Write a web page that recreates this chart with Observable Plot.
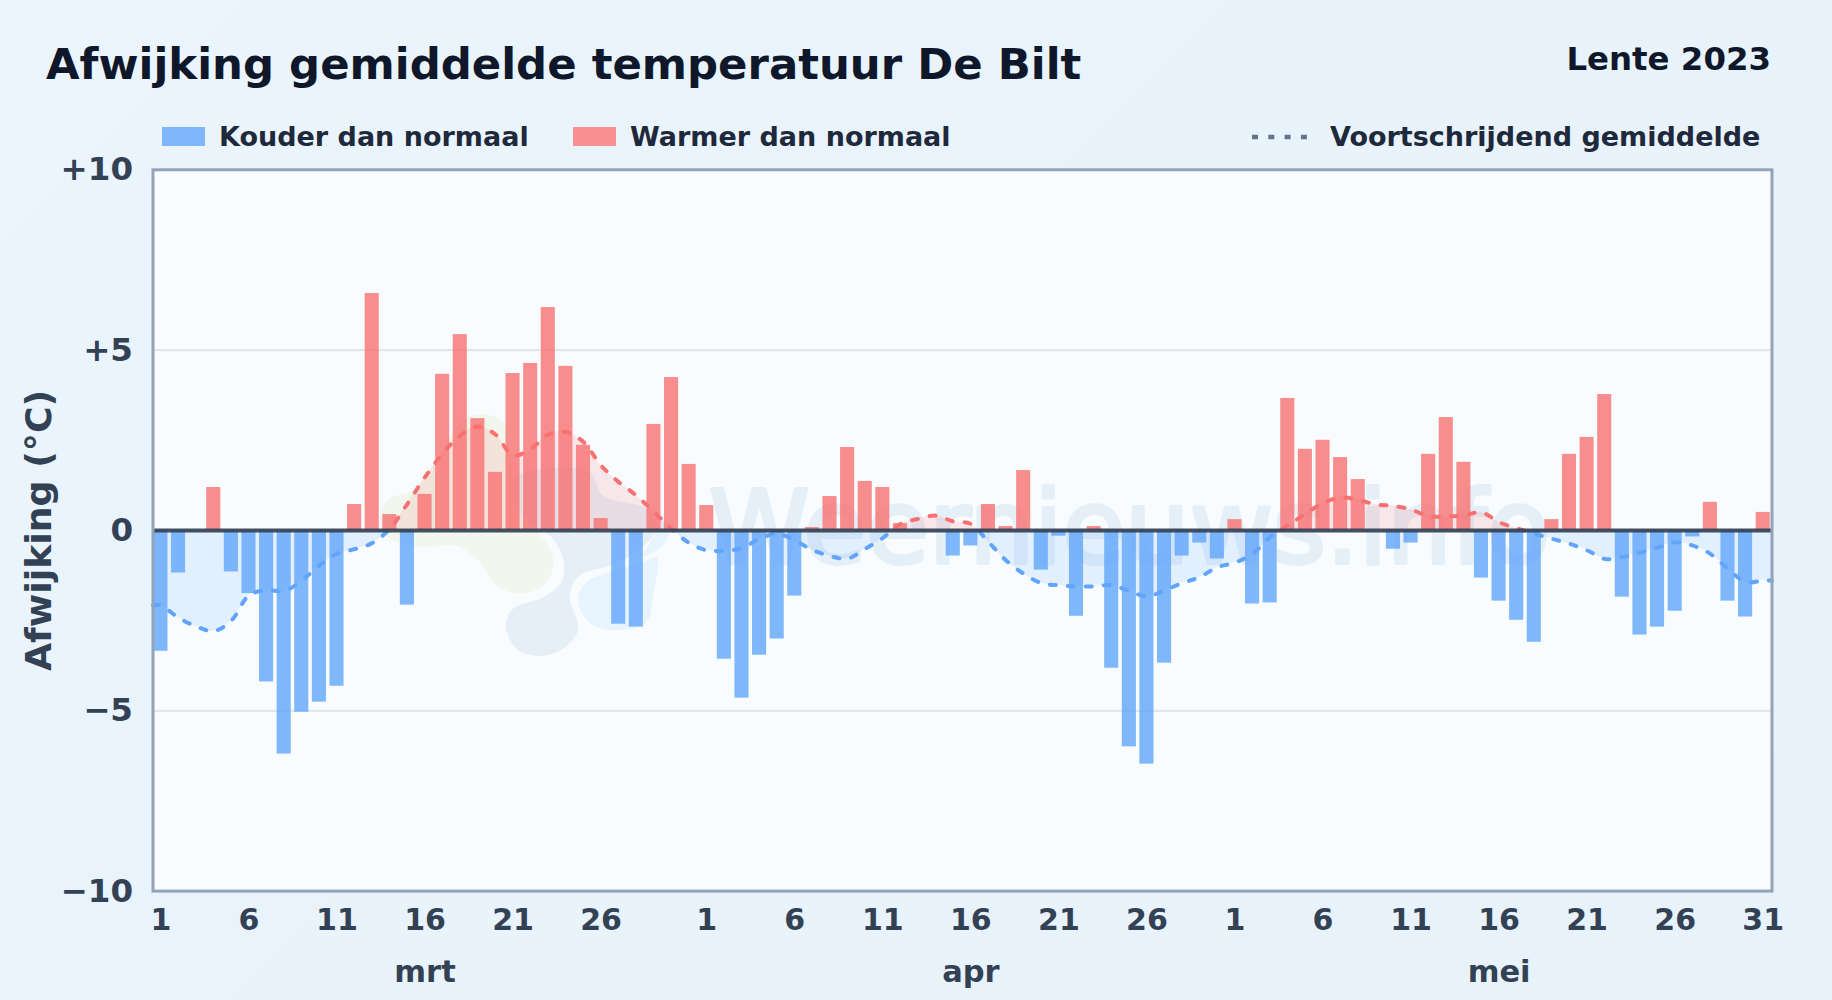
<!DOCTYPE html>
<html lang="nl">
<head>
<meta charset="utf-8">
<script src="https://cdn.jsdelivr.net/npm/d3@7"></script>
<script src="https://cdn.jsdelivr.net/npm/@observablehq/plot@0.6"></script>
<style>
  html, body { margin: 0; padding: 0; }
  body { width: 1832px; height: 1000px; overflow: hidden; position: relative;
         background: linear-gradient(135deg, #ecf5fd 0%, #e8f3fc 40%, #e8f2fb 100%);
         font-family: "DejaVu Sans", sans-serif; font-weight: bold; }
  .t { position: absolute; white-space: nowrap; }
  #title { left: 46px; top: 38px; font-size: 43.4px; color: #0f172a; line-height: 52px; }
  #season { right: 61px; top: 39px; font-size: 32.4px; color: #0f172a; line-height: 40px; }
  .lg { top: 120px; font-size: 27px; line-height: 34px; color: #1e293b; }
  .sw { position: absolute; top: 127px; width: 43px; height: 19px; }
  #chart { position: absolute; left: 0; top: 150px; }
</style>
</head>
<body>
<div id="title" class="t">Afwijking gemiddelde temperatuur De Bilt</div>
<div id="season" class="t">Lente 2023</div>
<div class="sw" style="left:162px;background:#80b6fb"></div>
<div class="t lg" style="left:219px">Kouder dan normaal</div>
<div class="sw" style="left:573px;background:#f88f90"></div>
<div class="t lg" style="left:630px">Warmer dan normaal</div>
<svg class="t" style="left:1250px;top:130px" width="60" height="14"><line x1="2" x2="58" y1="7" y2="7" stroke="#64748b" stroke-width="4.5" stroke-dasharray="6 10.3"/></svg>
<div class="t lg" style="left:1330px">Voortschrijdend gemiddelde</div>
<div id="chart"></div>
<script>
// Daily deviation (°C), 1 March to 31 May 2023
const marValues = [-3.35,-1.18,0,1.19,-1.15,-1.75,-4.2,-6.2,-5.04,-4.76,-4.32,0.72,6.57,0.44,-2.07,1.0,4.33,5.43,3.1,1.61,4.35,4.63,6.18,4.55,2.36,0.33,-2.6,-2.68,2.94,4.24,1.83];
const aprValues = [0.69,-3.57,-4.65,-3.46,-3.01,-1.82,0.08,0.94,2.3,1.36,1.19,0.19,0,0,-0.71,-0.43,0.72,0.11,1.66,-1.1,-0.16,-2.38,0.11,-3.82,-6.0,-6.48,-3.68,-0.71,-0.35,-0.79];
const meiValues = [0.3,-2.04,-2.01,3.66,2.25,2.5,2.02,1.41,0,-0.52,-0.35,2.11,3.13,1.89,-1.32,-1.96,-2.49,-3.1,0.3,2.11,2.58,3.77,-1.85,-2.9,-2.68,-2.24,-0.18,0.78,-1.96,-2.4,0.5];
// Moving average
const marAvg = [-2.08,-2.42,-2.66,-2.79,-2.5,-1.8,-1.66,-1.68,-1.39,-0.97,-0.65,-0.52,-0.35,0.05,0.74,1.48,2.13,2.63,2.88,2.66,2.08,2.26,2.66,2.73,2.45,1.8,1.34,0.97,0.51,0.05,-0.35];
const aprAvg = [-0.55,-0.56,-0.49,-0.23,-0.09,-0.28,-0.54,-0.71,-0.78,-0.51,-0.21,0.18,0.32,0.41,0.25,0.18,-0.32,-0.83,-1.2,-1.46,-1.52,-1.55,-1.55,-1.52,-1.68,-1.83,-1.66,-1.46,-1.29,-1.02];
const meiAvg = [-0.89,-0.65,-0.18,0.14,0.46,0.76,0.91,0.85,0.72,0.68,0.58,0.4,0.39,0.42,0.5,0.23,0.06,-0.09,-0.23,-0.37,-0.55,-0.79,-0.74,-0.62,-0.48,-0.33,-0.42,-0.65,-1.06,-1.43,-1.39];
// Axis labels
const dayLabels = ["1","6","11","16","21","26","1","6","11","16","21","26","1","6","11","16","21","26","31"];
const dayTicks = [1,6,11,16,21,26,32,37,42,47,52,57,62,67,72,77,82,87,92];
const monthLabels = ["mrt","apr","mei"];
const monthTicks = [16,47,77];
const yTicks = [-10,-5,0,5,10];
const xDomain = [0.55, 92.5];
// Watermark logo outlines (day, °C)
const logoGreenX = [13.43,13.99,15.32,16.65,17.97,19.3,20.43,20.81,21.38,21.76,22.9,23.3,22.7,21.38,20.05,19.11,17.78,15.7,14];
const logoGreenY = [0.32,0.88,1.11,1.89,3.0,3.23,3.0,2.17,0.97,0.23,-0.32,-0.97,-1.52,-1.76,-1.52,-0.88,-0.42,-0.46,-0.23];
const logoGreyX = [21,22.71,25.36,26.12,28.58,29.15,28,26.5,24.79,24.22,24.7,23.84,22.52,21.19,20.59,21,22.71,23.75,23.84,23.09,21.76,21.19];
const logoGreyY = [1.43,1.71,1.62,0.97,0.6,0.05,-0.6,-0.97,-1.25,-1.8,-2.73,-3.28,-3.48,-3.28,-2.63,-2.17,-1.85,-1.43,-0.79,-0.14,0.23,0.88];
const logoSkyX = [24.7,25.17,26.5,28.39,29.15,28.96,28.58,26.87,25.55,24.88];
const logoSkyY = [-1.8,-1.43,-1.16,-0.88,-0.75,-1.8,-2.54,-2.77,-2.63,-2.26];
const logoSky2X = [28.6,29.5,29.9,29.5,28.4,29.1];
const logoSky2Y = [0.6,0.42,0.05,-0.42,-0.7,0.05];

const values = [...marValues, ...aprValues, ...meiValues];
const avg = [...marAvg, ...aprAvg, ...meiAvg];
const rows = values.map((v, i) => ({day: i + 1, v})).filter(d => d.v !== 0);
const avgRows = [
  {day: xDomain[0], v: avg[0]},
  ...avg.map((v, i) => ({day: i + 1, v})),
  {day: xDomain[1], v: avg[avg.length - 1]}
];
const blob = (xs, ys) => xs.map((x, i) => ({x, y: ys[i]}));

const blue = "#60a5fa", red = "#f87171", ink = "#334155";
const curve = "catmull-rom";
const tickOpts = {tickSize: 0, fontSize: 30, fontWeight: "bold", fill: ink};

// Defines a hard blue/red split at y = 0 through the chart's y scale
function signGradient(index, {y}) {
  const ns = "http://www.w3.org/2000/svg";
  const defs = document.createElementNS(ns, "defs");
  const g = document.createElementNS(ns, "linearGradient");
  g.setAttribute("id", "signGrad");
  g.setAttribute("gradientUnits", "userSpaceOnUse");
  g.setAttribute("x1", 0); g.setAttribute("x2", 0);
  g.setAttribute("y1", y(10)); g.setAttribute("y2", y(-10));
  [[0, red], [0.5, red], [0.5, blue], [1, blue]].forEach(([o, c]) => {
    const s = document.createElementNS(ns, "stop");
    s.setAttribute("offset", o); s.setAttribute("stop-color", c);
    g.appendChild(s);
  });
  defs.appendChild(g);
  return defs;
}

const plot = Plot.plot({
  width: 1832, height: 850,
  marginTop: 19.3, marginBottom: 109.4, marginLeft: 152.5, marginRight: 60.5,
  style: {background: "transparent", fontFamily: "'DejaVu Sans', sans-serif"},
  x: {domain: xDomain, label: null},
  y: {domain: [-10, 10], label: null},
  marks: [
    signGradient,
    Plot.frame({fill: "#f8fcff", stroke: "none"}),
    Plot.line(blob(logoGreenX, logoGreenY), {x: "x", y: "y", fill: "#f1f7ed", stroke: "none", curve: "catmull-rom-closed"}),
    Plot.line(blob(logoGreyX, logoGreyY), {x: "x", y: "y", fill: "#e6eff8", stroke: "none", curve: "catmull-rom-closed"}),
    Plot.line(blob(logoSkyX, logoSkyY), {x: "x", y: "y", fill: "#e8f4fd", stroke: "none", curve: "catmull-rom-closed"}),
    Plot.line(blob(logoSky2X, logoSky2Y), {x: "x", y: "y", fill: "#e8f4fd", stroke: "none", curve: "catmull-rom-closed"}),
    Plot.text(["Weernieuws.info"], {x: 56, y: 0, text: d => d, fontSize: 102, fontWeight: "normal", fill: "#e5eff8", stroke: "#e5eff8", strokeWidth: 4, textAnchor: "middle"}),
    Plot.ruleY([-5, 5], {stroke: "#e2e7eb", strokeWidth: 2.2}),
    Plot.areaY(avgRows, {x: "day", y1: 0, y2: "v", fill: "url(#signGrad)", fillOpacity: 0.15, curve}),
    Plot.rectY(rows, {x1: d => d.day - 0.4, x2: d => d.day + 0.4, y: "v", fill: d => d.v < 0 ? blue : red, fillOpacity: 0.8}),
    Plot.line(avgRows, {x: "day", y: "v", stroke: "url(#signGrad)", strokeWidth: 4, strokeDasharray: "6 12", strokeLinecap: "round", curve}),
    Plot.ruleY([0], {stroke: "#334155", strokeOpacity: 0.92, strokeWidth: 4}),
    Plot.frame({stroke: "#94a3b8", strokeWidth: 3}),
    Plot.axisY({...tickOpts, fontSize: 32.5, ticks: yTicks, tickPadding: 20, label: null,
      tickFormat: d => d > 0 ? `+${d}` : d < 0 ? `\u2212${-d}` : "0"}),
    Plot.axisX({...tickOpts, ticks: dayTicks, tickPadding: 18, label: null,
      tickFormat: d => dayLabels[dayTicks.indexOf(d)]}),
    Plot.axisX({...tickOpts, fontSize: 30.5, ticks: monthTicks, tickPadding: 69, label: null,
      tickFormat: d => monthLabels[monthTicks.indexOf(d)]}),
    Plot.text(["Afwijking (°C)"], {frameAnchor: "left", text: d => d, rotate: -90, dx: -114, fontSize: 36.3, fontWeight: "bold", textAnchor: "middle", fill: ink})
  ]
});
document.getElementById("chart").appendChild(plot);
</script>
</body>
</html>
